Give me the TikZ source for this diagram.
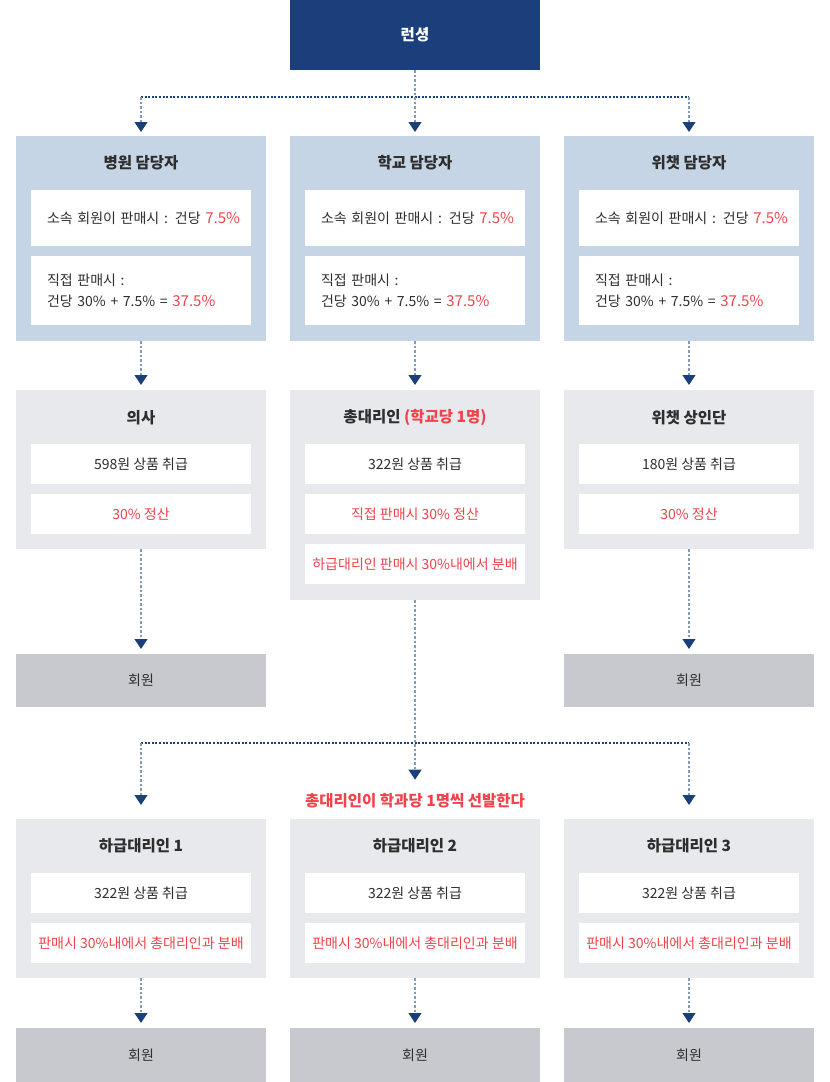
\documentclass[tikz,border=0pt]{standalone}
\usepackage{fontspec}
\setmainfont{Noto Sans CJK KR}
\usetikzlibrary{arrows.meta}

\definecolor{navy}{HTML}{1B3F7B}
\definecolor{paleblue}{HTML}{C6D5E6}
\definecolor{palegray}{HTML}{E8E9EC}
\definecolor{membergray}{HTML}{C8C9CE}
\definecolor{alert}{HTML}{F0434B}
\definecolor{ink}{HTML}{2E2E2E}
\definecolor{dashgray}{HTML}{8299B8}

\newcommand\txt{\fontsize{14}{21.5}\selectfont}
\newcommand\hd{\bfseries\fontsize{15.5}{19}\selectfont}
\newcommand\hot[1]{{\color{alert}\fontsize{15}{21.5}\selectfont #1}}

\tikzset{
  box/.style={inner sep=0pt, anchor=north, minimum width=250pt},
  lead/.style={box, fill=navy, minimum height=70pt, text=white, font=\hd},
  mgr/.style={box, fill=paleblue, minimum height=205pt},
  agent/.style={box, fill=palegray, minimum height=159pt},
  member/.style={box, fill=membergray, text=ink, font=\txt},
  head/.style={text=ink, font=\hd, inner sep=0pt},
  card/.style={fill=white, inner sep=0pt, minimum width=220pt, minimum height=40pt, text=ink, font=\txt},
  redcard/.style={card, text=alert},
  leftcard/.style={card, text width=188pt, inner xsep=16pt, align=left},
  link/.style={draw=dashgray, line width=1.2pt, dash pattern=on 2.5pt off 2pt,
    -{Triangle[length=10pt,width=13pt,color=navy,fill=navy]}},
  branch/.style={draw=navy, line width=1.2pt, dash pattern=on 2pt off 1.6pt}
}

\begin{document}
\begin{tikzpicture}[x=1pt,y=-1pt]
  \useasboundingbox (0,0) rectangle (830,1082);

  % top
  \node[lead] (lead) at (415,0) {런셩};
  \coordinate (topL) at (141,97);
  \coordinate (topR) at (689,97);

  % managers
  \foreach \col/\x/\title in {A/141/병원 담당자, B/415/학교 담당자, C/689/위챗 담당자} {
    \node[mgr] (mgr\col) at (\x,136) {};
    \node[head] (mgr\col head) at (\x,163) {\title};
    \node[leftcard, minimum height=56pt] (mgr\col own) at (\x,218)
      {\mbox{소속 회원이 판매시 : 건당 \hot{7.5\%}}};
    \node[leftcard, minimum height=69pt] (mgr\col direct) at (\x,290.5)
      {직접 판매시 :\\건당 30\% + 7.5\% = \hot{37.5\%}};
  }

  % agents
  \node[agent] (agentA) at (141,390) {};
  \node[head] (agentAhead) at (141,418) {의사};
  \node[card] (agentAitem) at (141,464) {598원 상품 취급};
  \node[redcard] (agentArate) at (141,514) {30\% 정산};

  \node[agent, minimum height=210pt] (agentB) at (415,390) {};
  \node[head] (agentBhead) at (415,418) {총대리인 \textcolor{alert}{(학교당 1명)}};
  \node[card] (agentBitem) at (415,464) {322원 상품 취급};
  \node[redcard] (agentBrate) at (415,514) {직접 판매시 30\% 정산};
  \node[redcard] (agentBshare) at (415,564) {하급대리인 판매시 30\%내에서 분배};

  \node[agent] (agentC) at (689,390) {};
  \node[head] (agentChead) at (689,418) {위챗 상인단};
  \node[card] (agentCitem) at (689,464) {180원 상품 취급};
  \node[redcard] (agentCrate) at (689,514) {30\% 정산};

  \node[member, minimum height=53pt] (memberA) at (141,654) {회원};
  \node[member, minimum height=53pt] (memberC) at (689,654) {회원};

  % sub agents
  \coordinate (subL) at (141,743);
  \coordinate (subR) at (689,743);
  \node[anchor=base, inner sep=0pt, text=alert, font=\hd] (note) at (415,806)
    {총대리인이 학과당 1명씩 선발한다};
  \foreach \col/\x in {1/141, 2/415, 3/689} {
    \node[agent] (sub\col) at (\x,819) {};
    \node[head] (sub\col head) at (\x,846) {하급대리인 \col};
    \node[card] (sub\col item) at (\x,893) {322원 상품 취급};
    \node[redcard] (sub\col share) at (\x,943) {판매시 30\%내에서 총대리인과 분배};
    \node[member, minimum height=54pt] (sub\col member) at (\x,1028) {회원};
    \draw[link, shorten >=5pt] (sub\col) -- (sub\col member);
  }

  % connectors
  \draw[branch] (topL) -- (topR);
  \draw[link, shorten >=4pt] (lead) -- (mgrB);
  \draw[link, shorten >=4pt] (topL) -- (mgrA);
  \draw[link, shorten >=4pt] (topR) -- (mgrC);
  \draw[link, shorten >=5pt] (mgrA) -- (agentA);
  \draw[link, shorten >=5pt] (mgrB) -- (agentB);
  \draw[link, shorten >=5pt] (mgrC) -- (agentC);
  \draw[link, shorten >=5pt] (agentA) -- (memberA);
  \draw[link, shorten >=5pt] (agentC) -- (memberC);
  \draw[branch] (subL) -- (subR);
  \draw[link, shorten >=13pt] (agentB) -- (note);
  \draw[link, shorten >=14pt] (subL) -- (sub1);
  \draw[link, shorten >=14pt] (subR) -- (sub3);
\end{tikzpicture}
\end{document}
